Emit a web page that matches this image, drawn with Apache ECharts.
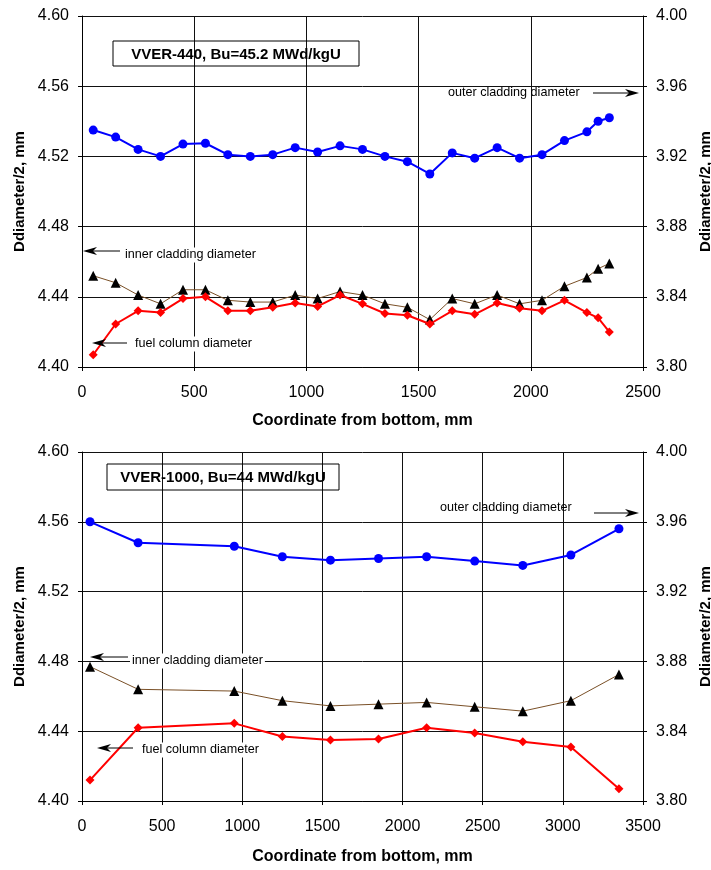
<!DOCTYPE html>
<html>
<head>
<meta charset="utf-8">
<script src="https://cdn.jsdelivr.net/npm/echarts@6/dist/echarts.min.js"></script>
<style>
  html, body { margin: 0; padding: 0; background: #fff; }
  #chart { width: 711px; height: 870px; }
</style>
</head>
<body>
<div id="chart"></div>
<script>
// Axial profiles of fuel rod radii (Ddiameter/2) versus coordinate from the bottom of the rod.

// VVER-440, Bu = 45.2 MWd/kgU
const posVVER440 = [50, 150, 250, 350, 450, 550, 650, 750, 850, 950, 1050, 1150, 1250,
  1350, 1450, 1550, 1650, 1750, 1850, 1950, 2050, 2150, 2250, 2300, 2350];
const outerVVER440 = [4.535, 4.531, 4.524, 4.520, 4.527, 4.5275, 4.521, 4.520, 4.521, 4.525,
  4.5225, 4.526, 4.524, 4.520, 4.517, 4.510, 4.522, 4.519, 4.525, 4.519, 4.521, 4.529,
  4.534, 4.540, 4.542];
const innerVVER440 = [3.852, 3.848, 3.841, 3.836, 3.844, 3.844, 3.838, 3.837, 3.837, 3.841,
  3.839, 3.843, 3.841, 3.836, 3.834, 3.827, 3.839, 3.836, 3.841, 3.836, 3.838, 3.846,
  3.851, 3.856, 3.859];
const fuelVVER440 = [3.807, 3.8245, 3.832, 3.831, 3.839, 3.840, 3.832, 3.832, 3.834, 3.8365,
  3.8345, 3.841, 3.836, 3.8305, 3.8295, 3.8245, 3.832, 3.830, 3.8365, 3.8335, 3.832, 3.838,
  3.831, 3.828, 3.820];

// VVER-1000, Bu = 44 MWd/kgU
const posVVER1000 = [50, 350, 950, 1250, 1550, 1850, 2150, 2450, 2750, 3050, 3350];
const outerVVER1000 = [4.560, 4.548, 4.546, 4.540, 4.538, 4.539, 4.540, 4.5375, 4.535, 4.541, 4.556];
const innerVVER1000 = [3.877, 3.864, 3.863, 3.8575, 3.8545, 3.8555, 3.8565, 3.854, 3.8515, 3.8575, 3.8725];
const fuelVVER1000 = [3.812, 3.842, 3.8445, 3.837, 3.835, 3.8355, 3.842, 3.839, 3.834, 3.831, 3.807];

// Axis scales
const xMaxVVER440 = 2500;
const xMaxVVER1000 = 3500;
const xStep = 500;
const outerAxis = { min: 4.40, max: 4.60, step: 0.04 };
const innerAxis = { min: 3.80, max: 4.00, step: 0.04 };

// Text
const panelTitles = ['VVER-440, Bu=45.2 MWd/kgU', 'VVER-1000, Bu=44 MWd/kgU'];
const xTitle = 'Coordinate from bottom, mm';
const yTitle = 'Ddiameter/2, mm';
const curveNames = ['outer cladding diameter', 'inner cladding diameter', 'fuel column diameter'];

const FONT = '"Liberation Sans", Arial, Helvetica, sans-serif';
const pair = (xs, ys) => xs.map((x, i) => [x, ys[i]]);

const chart = echarts.init(document.getElementById('chart'), null, { renderer: 'canvas' });

const grids = [
  { left: 82, top: 16, width: 561, height: 351 },
  { left: 82, top: 452, width: 561, height: 349 }
];

function xAxisFor(gridIndex, max, nameGap) {
  return {
    type: 'value', gridIndex, min: 0, max, interval: xStep,
    name: xTitle, nameLocation: 'middle', nameGap,
    nameTextStyle: { fontFamily: FONT, fontSize: 16, fontWeight: 'bold', color: '#000' },
    axisLine: { show: true, lineStyle: { color: '#000', width: 1 } },
    axisTick: { show: true, length: 4, lineStyle: { color: '#000' } },
    axisLabel: { margin: 18, fontFamily: FONT, fontSize: 16, color: '#000', formatter: v => String(v) },
    splitLine: { show: true, lineStyle: { color: '#111', width: 1 } }
  };
}

function yAxisFor(gridIndex, scale, position) {
  return {
    type: 'value', gridIndex, position,
    min: scale.min, max: scale.max, interval: scale.step,
    name: yTitle, nameLocation: 'middle', nameRotate: 90,
    nameGap: position === 'left' ? 48 : 51,
    nameTextStyle: { fontFamily: FONT, fontSize: 15, fontWeight: 'bold', color: '#000' },
    axisLine: { show: true, onZero: false, lineStyle: { color: '#000', width: 1 } },
    axisTick: { show: true, length: 4, lineStyle: { color: '#000' } },
    axisLabel: {
      margin: 13, fontFamily: FONT, fontSize: 16, color: '#000',
      formatter: v => v.toFixed(2)
    },
    splitLine: { show: position === 'left', lineStyle: { color: '#111', width: 1 } }
  };
}

function outerSeries(x, y, xi, yi) {
  return {
    type: 'line', name: curveNames[0], xAxisIndex: xi, yAxisIndex: yi,
    data: pair(x, y), symbol: 'circle', symbolSize: 9,
    lineStyle: { color: '#0000ff', width: 2 },
    itemStyle: { color: '#0000ff' }, z: 3
  };
}
function innerSeries(x, y, xi, yi) {
  return {
    type: 'line', name: curveNames[1], xAxisIndex: xi, yAxisIndex: yi,
    data: pair(x, y), symbol: 'triangle', symbolSize: 10,
    lineStyle: { color: '#7a5027', width: 1 },
    itemStyle: { color: '#000' }, z: 3
  };
}
function fuelSeries(x, y, xi, yi) {
  return {
    type: 'line', name: curveNames[2], xAxisIndex: xi, yAxisIndex: yi,
    data: pair(x, y), symbol: 'diamond', symbolSize: 9,
    lineStyle: { color: '#ff0000', width: 2 },
    itemStyle: { color: '#ff0000' }, z: 4
  };
}

// Arrow made of a shaft and a notched head pointing at (x2, y2)
function arrow(x1, y1, x2, y2) {
  const len = Math.hypot(x2 - x1, y2 - y1);
  const ux = (x2 - x1) / len, uy = (y2 - y1) / len;
  const px = -uy, py = ux;
  const head = 14, half = 4, notch = 10;
  const bx = x2 - ux * head, by = y2 - uy * head;
  const nx = x2 - ux * notch, ny = y2 - uy * notch;
  return [
    { type: 'line', z: 10, shape: { x1, y1, x2: nx, y2: ny }, style: { stroke: '#000', lineWidth: 1 } },
    { type: 'polygon', z: 10, shape: { points: [[x2, y2], [bx + px * half, by + py * half], [nx, ny], [bx - px * half, by - py * half]] },
      style: { fill: '#000' } }
  ];
}

function note(text, x, y, whiteBg) {
  const s = { text, x, y, font: '12.6px ' + FONT, fill: '#000', verticalAlign: 'middle', align: 'left' };
  if (whiteBg) { s.backgroundColor = '#fff'; s.padding = [1, 2]; }
  return { type: 'text', z: 9, style: s };
}

function titleBox(text, x, y, w, h) {
  return [
    { type: 'rect', z: 9, shape: { x, y, width: w, height: h }, style: { fill: 'none', stroke: '#000', lineWidth: 1 } },
    { type: 'text', z: 10, style: { text, x: x + w / 2, y: y + h / 2 + 1, align: 'center', verticalAlign: 'middle',
      font: 'bold 15px ' + FONT, fill: '#000' } }
  ];
}

const graphics = [].concat(
  titleBox(panelTitles[0], 113, 41, 246, 25),
  note(curveNames[0], 448, 93, false),
  arrow(593, 93, 639, 93),
  note(curveNames[1], 123, 255, true),
  arrow(120, 251, 83, 251),
  note(curveNames[2], 133, 344, true),
  arrow(127, 343, 92, 343),

  titleBox(panelTitles[1], 107, 464, 232, 26),
  note(curveNames[0], 440, 508, false),
  arrow(594, 513, 639, 513),
  note(curveNames[1], 130, 661, true),
  arrow(128, 657, 90, 657),
  note(curveNames[2], 140, 750, true),
  arrow(133, 748, 97, 748)
);

chart.setOption({
  animation: false,
  backgroundColor: '#fff',
  grid: grids.map(g => Object.assign({ containLabel: false, outerBoundsMode: 'none', show: false }, g)),
  xAxis: [xAxisFor(0, xMaxVVER440, 46), xAxisFor(1, xMaxVVER1000, 48)],
  yAxis: [
    yAxisFor(0, outerAxis, 'left'), yAxisFor(0, innerAxis, 'right'),
    yAxisFor(1, outerAxis, 'left'), yAxisFor(1, innerAxis, 'right')
  ],
  series: [
    outerSeries(posVVER440, outerVVER440, 0, 0),
    innerSeries(posVVER440, innerVVER440, 0, 1),
    fuelSeries(posVVER440, fuelVVER440, 0, 1),
    outerSeries(posVVER1000, outerVVER1000, 1, 2),
    innerSeries(posVVER1000, innerVVER1000, 1, 3),
    fuelSeries(posVVER1000, fuelVVER1000, 1, 3)
  ],
  graphic: graphics
});
</script>
</body>
</html>
